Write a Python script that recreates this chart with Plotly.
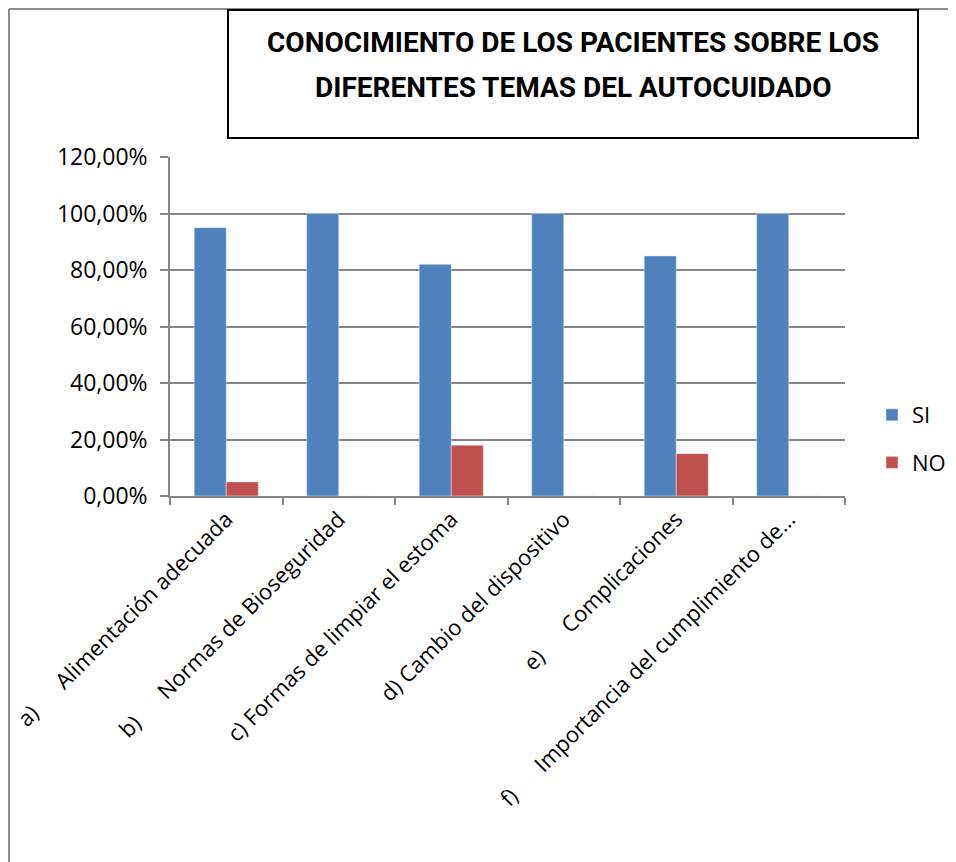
import plotly.graph_objects as go

NB = "\u00a0"
categories = [
    "a)" + NB * 6 + "Alimentación adecuada",
    "b)" + NB * 6 + "Normas de Bioseguridad",
    "c) Formas de limpiar el estoma",
    "d) Cambio del dispositivo",
    "e)" + NB * 6 + "Complicaciones",
    "f)" + NB * 6 + "Importancia del cumplimiento de…",
]
si_values = [0.95, 1.00, 0.82, 1.00, 0.85, 1.00]
no_values = [0.05, 0.00, 0.18, 0.00, 0.15, 0.00]
tick_vals = [0, 0.2, 0.4, 0.6, 0.8, 1.0, 1.2]

# page has an 8px body margin: work in page coordinates and shift
OFF = 8
W, H = 956 - OFF, 862 - OFF
L, T = 170 - OFF, 157 - OFF
pw, ph = 675, 339
R, B = W - L - pw, H - T - ph


def px(x):
    return (x - OFF - L) / pw


def py(y):
    return (T + ph - (y - OFF)) / ph


TICK_FONT = dict(family="Open Sans, Lato, sans-serif", size=22, color="#000000")

fig = go.Figure()
fig.add_trace(go.Bar(name="SI", x=categories, y=si_values, marker_color="#4F81BD",
                     legendgroup="si"))
fig.add_trace(go.Bar(name="NO", x=categories, y=no_values, marker_color="#C0504D",
                     legendgroup="no"))

fig.update_layout(
    width=W, height=H,
    margin=dict(l=L, r=R, t=T, b=B, autoexpand=False),
    paper_bgcolor="white", plot_bgcolor="white",
    separators=",.",
    barmode="group", bargap=0.43, bargroupgap=0,
    showlegend=True,
    legend=dict(
        x=px(872), y=py(394), xanchor="left", yanchor="top",
        font=dict(family="Open Sans, Lato, sans-serif", size=22, color="#000000"),
        tracegroupgap=16, itemwidth=30,
        bgcolor="rgba(0,0,0,0)",
    ),
    xaxis=dict(
        type="category", tickangle=-45, tickfont=TICK_FONT,
        showline=True, linecolor="#868686", linewidth=1.5,
        ticks="outside", ticklen=7, tickcolor="#868686", tickwidth=1.5,
        tickson="boundaries", showgrid=False, automargin=False,
    ),
    yaxis=dict(
        range=[0, 1.2], tickvals=tick_vals, tickformat=".2%",
        tickfont=dict(family="Open Sans, Lato, sans-serif", size=23, color="#000000"),
        ticklabelstandoff=8,
        showline=True, linecolor="#868686", linewidth=1.5,
        ticks="outside", ticklen=8, tickcolor="#868686", tickwidth=1.5,
        showgrid=True, gridcolor="#868686", gridwidth=1.5,
        zeroline=False, automargin=False,
    ),
    shapes=[
        dict(type="line", xref="paper", yref="paper",
             x0=px(9), x1=px(9), y0=py(9), y1=py(900),
             line=dict(color="#8c8c8c", width=2)),
        dict(type="line", xref="paper", yref="paper",
             x0=px(9), x1=px(970), y0=py(9), y1=py(9),
             line=dict(color="#8c8c8c", width=2)),
        dict(type="rect", xref="paper", yref="paper",
             x0=px(228), x1=px(918), y0=py(10), y1=py(138),
             line=dict(color="#000000", width=2), fillcolor="white"),
    ],
    annotations=[
        dict(xref="paper", yref="paper", x=px(573), y=py(42),
             text="<b>CONOCIMIENTO DE LOS PACIENTES SOBRE LOS</b>",
             showarrow=False, xanchor="center", yanchor="middle",
             font=dict(family="Roboto, sans-serif", size=28, color="#000000")),
        dict(xref="paper", yref="paper", x=px(573), y=py(88),
             text="<b>DIFERENTES TEMAS DEL AUTOCUIDADO</b>",
             showarrow=False, xanchor="center", yanchor="middle",
             font=dict(family="Roboto, sans-serif", size=28, color="#000000")),
    ],
)

fig.write_html("out.html")
